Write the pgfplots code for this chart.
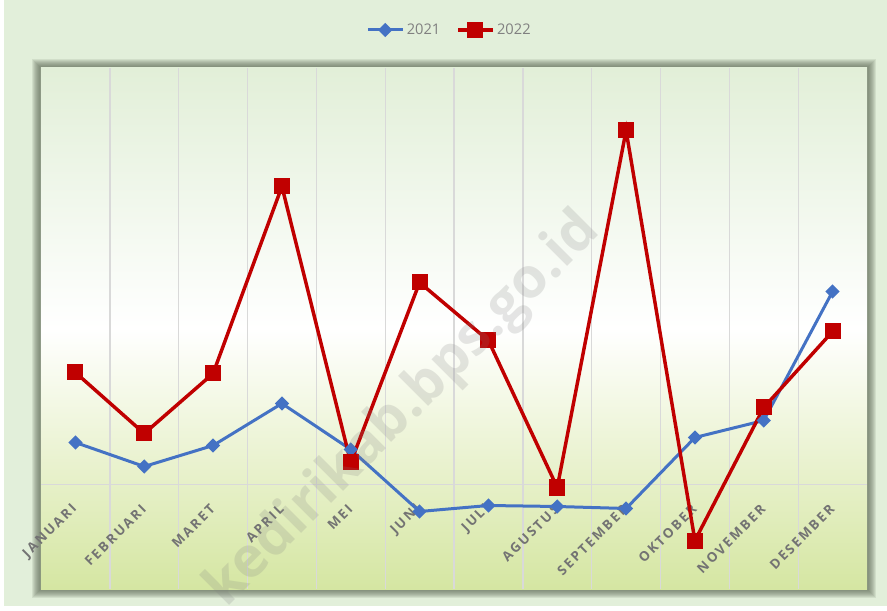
\documentclass[border=0pt]{standalone}
\usepackage{pgfplots}
\pgfplotsset{compat=1.18}
\usepackage{fontspec}
\setmainfont{Open Sans}
\newfontfamily\tickfont[LetterSpace=16]{Open Sans}

\definecolor{bgG}{RGB}{226,239,218}
\definecolor{plotTop}{RGB}{226,239,216}
\definecolor{plotBot}{RGB}{213,230,162}
\definecolor{shadowC}{RGB}{90,100,80}
\definecolor{gridC}{RGB}{217,217,217}
\definecolor{tickC}{RGB}{115,115,115}
\definecolor{legC}{RGB}{128,128,128}
\definecolor{c2021}{RGB}{68,114,196}
\definecolor{c2022}{RGB}{192,0,0}

\begin{document}
\begin{tikzpicture}[x=1pt,y=1pt]
% 1 px of the reference = 0.75pt; origin = lower left of the plot area
\useasboundingbox (-30.75,-15.75) rectangle (634.5,441.75);
\fill[white] (-30.75,-15.75) rectangle (634.5,441.75);
\fill[bgG] (-27.75,-12.75) rectangle (634.5,441.75);
\foreach \i in {1,...,9}
  \fill[shadowC, opacity=0.12] (-0.75*\i,-0.75*\i) rectangle (619.5+0.75*\i,390.75+0.75*\i);

\begin{axis}[
    at={(0,0)}, anchor=south west,
    scale only axis,
    width=619.5pt, height=390.75pt,
    xmin=0.5, xmax=12.5,
    ymin=-1.045, ymax=4.165,
    axis line style={draw=none},
    axis background/.style={top color=plotTop, bottom color=plotBot, middle color=white},
    xtick={1,...,12},
    xticklabels={JANUARI,FEBRUARI,MARET,APRIL,MEI,JUNI,JULI,AGUSTUS,SEPTEMBER,OKTOBER,NOVEMBER,DESEMBER},
    minor xtick={1.5,2.5,...,11.5},
    xminorgrids,
    ytick={0}, yticklabels={},
    ymajorgrids,
    major tick length=0pt, minor tick length=0pt,
    grid style={draw=gridC, line width=1pt},
    minor grid style={draw=gridC, line width=1pt},
    xticklabel style={yshift=64pt, xshift=2pt, rotate=45, anchor=east,
        font=\tickfont\bfseries\fontsize{10}{12}\selectfont, text=tickC},
    legend style={at={(0.495,1.073)}, anchor=center, draw=none, fill=none,
        legend columns=2, font=\fontsize{11}{13}\selectfont, text=legC,
        /tikz/every even column/.append style={column sep=10pt}},
    legend image code/.code={\draw[mark repeat=2,mark phase=2,#1]
        plot coordinates {(0pt,0pt) (13pt,0pt) (26pt,0pt)};},
]
% 2021
\addplot[c2021, line width=2.25pt, mark=square*, mark size=2.65pt,
    mark options={rotate=45, solid}] coordinates {
    (1,0.42) (2,0.18) (3,0.39) (4,0.81) (5,0.35) (6,-0.27)
    (7,-0.21) (8,-0.22) (9,-0.24) (10,0.47) (11,0.64) (12,1.93)
};
% 2022
\addplot[c2022, line width=2.6pt, mark=square*, mark size=4.7pt,
    mark options={solid}] coordinates {
    (1,1.12) (2,0.51) (3,1.11) (4,2.98) (5,0.22) (6,2.02)
    (7,1.44) (8,-0.03) (9,3.54) (10,-0.56) (11,0.77) (12,1.53)
};
\legend{2021, 2022}
\end{axis}

\node[rotate=45, text=gray, opacity=0.2,
    font=\bfseries\fontsize{42}{50}\selectfont] at (272,134) {kedirikab.bps.go.id};
\end{tikzpicture}
\end{document}
